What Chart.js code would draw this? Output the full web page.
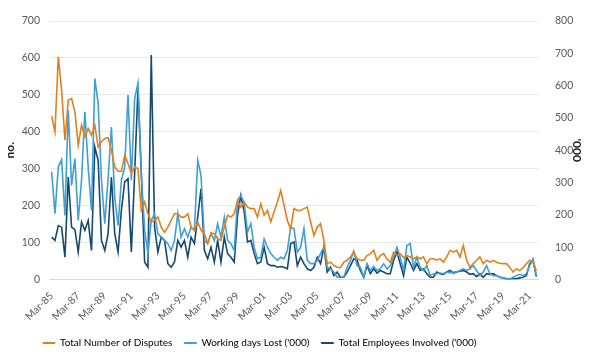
<!DOCTYPE html>
<html>
<head>
<meta charset="utf-8">
<script src="https://cdn.jsdelivr.net/npm/chart.js@4.4.1/dist/chart.umd.min.js"></script>
<style>
  html, body { margin: 0; padding: 0; background: #fff; }
  #wrap { width: 602px; height: 362px; }
</style>
</head>
<body>
<div id="wrap"><canvas id="disputesChart" width="602" height="362"></canvas></div>
<script>
// quarterly categories Mar-85 .. Sep-21
const months = ['Mar', 'Jun', 'Sep', 'Dec'];
const quarters = [];
for (let y = 1985; y <= 2021; y++) {
    for (const m of months) {
        if (y === 2021 && m === 'Dec') break;
        quarters.push(m + '-' + String(y).slice(2));
    }
}

const tickLabels = ['Mar-85', 'Mar-87', 'Mar-89', 'Mar-91', 'Mar-93', 'Mar-95', 'Mar-97', 'Mar-99', 'Mar-01',
    'Mar-03', 'Mar-05', 'Mar-07', 'Mar-09', 'Mar-11', 'Mar-13', 'Mar-15', 'Mar-17', 'Mar-19', 'Mar-21'];

// left axis (no.)
const disputes = [
    442, 400, 603, 513, 377, 486, 490, 454, 364, 418, 386, 409, 391, 418, 359, 373, 382, 384, 350, 305,
    293, 293, 336, 314, 287, 305, 300, 187, 210,
    178, 156, 160, 169, 142, 128, 142, 160, 178, 178, 169, 169, 178, 142, 133, 156, 133, 124, 97, 126,
    124, 110, 106, 142, 174, 169, 178, 214, 196,
    210, 196, 192, 192, 169, 205, 174, 187, 156, 183, 210, 241, 201, 160, 137, 192, 187, 187, 192, 196,
    156, 119, 142, 151, 106, 43, 47, 38, 33, 32,
    47, 52, 61, 74, 56, 52, 52, 65, 70, 79, 52, 65, 70, 56, 47, 74, 65, 70, 59, 65,
    61, 56, 61, 56, 61, 43, 56, 56, 53,
    56, 47, 61, 79, 74, 79, 61, 92, 52, 33, 43, 52, 61, 43, 52, 47, 52, 47, 44, 43,
    43, 33, 20, 29, 24, 32, 43, 52, 47, 24
];

// right axis ('000)
const daysLost = [
    333, 204, 348, 371, 198, 524, 291, 374, 183, 307, 519, 348, 214, 622, 545, 307, 173, 312, 472, 255,
    167, 307, 348, 571, 307, 560, 608, 328, 152,
    80, 183, 204, 142, 131, 121, 111, 90, 121, 204, 131, 157, 131, 162, 152, 369, 322, 121, 111, 142,
    121, 173, 131, 193, 121, 111, 90, 245, 260,
    235, 147, 173, 100, 64, 69, 126, 100, 80, 69, 59, 69, 64, 90, 162, 157, 85, 100, 157, 59,
    49, 49, 59, 80, 100, 38, 33, 23, 7, 7,
    7, 38, 59, 88, 43, 38, 7, 49, 28, 40, 28, 33, 49, 33, 43, 69, 100, 69, 28, 105,
    111, 38, 69, 38, 28, 43, 12, 18, 18,
    20, 18, 23, 20, 23, 23, 28, 33, 28, 33, 43, 28, 12, 23, 43, 18, 12, 12, 7, 5,
    2, 1, 7, 12, 16, 12, 18, 43, 64, 12
];

const employees = [
    131, 121, 167, 162, 69, 317, 162, 154, 85, 178, 152, 183, 90, 410, 369, 121, 90, 142, 317, 142,
    85, 214, 302, 312, 85, 328, 592, 328, 54,
    38, 695, 162, 85, 131, 121, 49, 38, 54, 121, 100, 121, 69, 131, 111, 193, 281, 90, 64, 100,
    54, 121, 54, 131, 80, 69, 54, 200, 260,
    209, 116, 121, 80, 49, 54, 100, 49, 43, 43, 38, 40, 38, 33, 111, 116, 43, 69, 49, 33,
    28, 38, 69, 49, 100, 23, 38, 12, 23, 7,
    7, 23, 43, 64, 59, 28, 7, 43, 18, 33, 20, 28, 23, 18, 18, 59, 85, 49, 12, 69,
    51, 28, 49, 28, 33, 18, 7, 7, 23,
    18, 16, 23, 28, 20, 23, 26, 28, 23, 16, 18, 9, 18, 7, 18, 16, 18, 12, 7, 5,
    2, 1, 3, 2, 5, 7, 12, 49, 59, 9
];

const font = "Lato, 'Noto Sans', sans-serif";

// legend in the original sits a bit left of centre
const legendShift = {
    id: 'legendShift',
    afterLayout: function (chart) {
        if (chart.legend) chart.legend.left = 31;
    }
};

document.addEventListener('DOMContentLoaded', function () {
    const ctx = document.getElementById('disputesChart').getContext('2d');
    new Chart(ctx, {
        type: 'line',
        data: {
            labels: quarters,
            datasets: [{
                label: 'Total Number of Disputes',
                data: disputes,
                borderColor: '#E3801C',
                yAxisID: 'y'
            }, {
                label: "Working days Lost ('000)",
                data: daysLost,
                borderColor: '#3F9FD8',
                yAxisID: 'y1'
            }, {
                label: "Total Employees Involved ('000)",
                data: employees,
                borderColor: '#15496F',
                yAxisID: 'y1'
            }]
        },
        plugins: [legendShift],
        options: {
            responsive: false,
            animation: false,
            layout: { padding: { top: 21, right: 18, left: 3, bottom: 4 } },
            elements: {
                line: { borderWidth: 1.6, tension: 0 },
                point: { radius: 0 }
            },
            plugins: {
                legend: {
                    position: 'bottom',
                    align: 'start',
                    labels: {
                        boxWidth: 12,
                        boxHeight: 1,
                        padding: 12,
                        color: '#333',
                        font: { family: font, size: 10 },
                        generateLabels: function (chart) {
                            return chart.data.datasets.map(function (ds, i) {
                                return {
                                    text: ds.label,
                                    fillStyle: ds.borderColor,
                                    strokeStyle: ds.borderColor,
                                    lineWidth: 1,
                                    datasetIndex: i
                                };
                            });
                        }
                    }
                },
                tooltip: { enabled: false }
            },
            scales: {
                x: {
                    offset: true,
                    grid: { display: false },
                    border: { color: '#D9D9D9' },
                    ticks: {
                        autoSkip: false,
                        maxRotation: 45,
                        minRotation: 45,
                        padding: 2,
                        color: '#595959',
                        font: { family: font, size: 10.5 },
                        callback: function (val, idx) {
                            const lab = quarters[idx];
                            return tickLabels.includes(lab) ? lab : '';
                        }
                    },
                    afterFit: function (scale) { scale.height = 46.5; }
                },
                y: {
                    position: 'left',
                    min: 0,
                    max: 700,
                    grid: { color: '#E8E8E8', drawTicks: false },
                    border: { display: false },
                    ticks: {
                        stepSize: 100,
                        padding: 10,
                        color: '#595959',
                        font: { family: font, size: 10.5 }
                    },
                    title: {
                        display: true,
                        text: 'no.',
                        color: '#222',
                        padding: 0,
                        font: { family: font, size: 12, weight: 'bold' }
                    },
                    afterFit: function (scale) { scale.width = 47; }
                },
                y1: {
                    position: 'right',
                    min: 0,
                    max: 800,
                    grid: { display: false },
                    border: { display: false },
                    ticks: {
                        stepSize: 100,
                        padding: 9,
                        color: '#595959',
                        font: { family: font, size: 10.5 }
                    },
                    title: {
                        display: true,
                        text: "'000",
                        color: '#222',
                        padding: 0,
                        font: { family: font, size: 12, weight: 'bold' }
                    },
                    afterFit: function (scale) { scale.width = 46; }
                }
            }
        }
    });
});
</script>
</body>
</html>
